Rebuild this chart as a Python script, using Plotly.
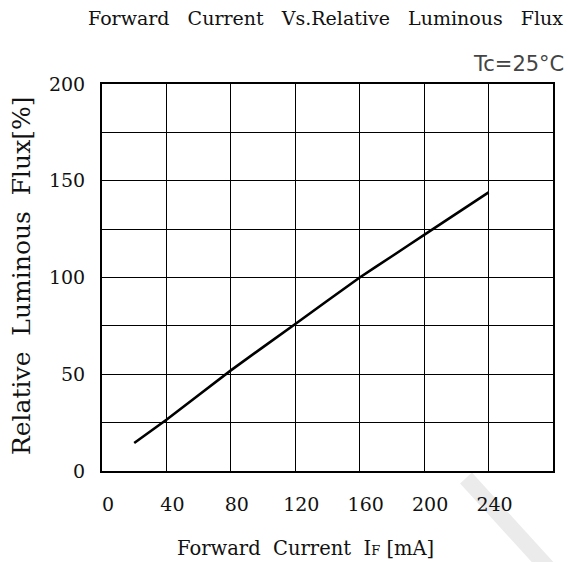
import plotly.graph_objects as go

# Data
current_ma = [20, 40, 80, 120, 160, 180, 200, 240]
rel_flux = [14.5, 26.5, 52, 76, 100, 111, 122, 144]

x_grid = [0, 40, 80, 120, 160, 200, 240, 280]
x_labels = ["0", "40", "80", "120", "160", "200", "240", ""]
y_grid = [0, 25, 50, 75, 100, 125, 150, 175, 200]
y_labels = ["0", "", "50", "", "100", "", "150", "", "200"]

W, H = 568, 562
L, R, T, B = 102, 15, 84, 91
pw, ph = W - L - R, H - T - B

def px_x(p):
    return (p - L) / pw

def px_y(p):
    return (H - B - p) / ph

serif = "DejaVu Serif"
NB = "\u00a0"

fig = go.Figure()
fig.add_trace(go.Scatter(x=current_ma, y=rel_flux, mode="lines",
                         line=dict(color="black", width=2.6, shape="spline", smoothing=0.3),
                         hoverinfo="skip", showlegend=False))

fig.update_layout(
    width=W, height=H,
    margin=dict(l=L, r=R, t=T, b=B),
    paper_bgcolor="white", plot_bgcolor="white",
    showlegend=False,
    font=dict(family=serif, color="black"),
)
fig.update_xaxes(range=[0, 280], tickvals=x_grid, ticktext=x_labels,
                 showgrid=True, gridcolor="black", gridwidth=1.3,
                 showline=True, linecolor="black", linewidth=2, mirror=True,
                 ticks="", zeroline=False, ticklabelshift=6, ticklabelstandoff=15,
                 tickfont=dict(family=serif, size=19, color="#111"), fixedrange=True)
fig.update_yaxes(range=[0, 200], tickvals=y_grid, ticktext=y_labels,
                 showgrid=True, gridcolor="black", gridwidth=1.3,
                 showline=True, linecolor="black", linewidth=2, mirror=True,
                 ticks="", zeroline=False, ticklabelstandoff=11,
                 tickfont=dict(family=serif, size=19, color="#111"), fixedrange=True)

# watermark band
fig.add_shape(type="line", xref="paper", yref="paper",
              x0=px_x(466), y0=px_y(478), x1=px_x(548), y1=px_y(568),
              line=dict(color="#ebebeb", width=16), layer="below")

G3 = NB * 3
anns = [
    dict(text=f"Forward{G3}Current{G3}Vs.Relative{G3}Luminous{G3}Flux",
         x=px_x(565), y=px_y(18), xanchor="right", yanchor="middle",
         font=dict(family=serif, size=19, color="#111")),
    dict(text="Tc=25°C", x=px_x(566), y=px_y(64), xanchor="right", yanchor="middle",
         font=dict(family="DejaVu Sans", size=21, color="#444")),
    dict(text=f"Forward{NB}{NB}Current{NB}{NB}I<span style='font-size:13px'>F</span>{NB}[mA]",
         x=px_x(305), y=px_y(548), xanchor="center", yanchor="middle",
         font=dict(family=serif, size=19.5, color="#111")),
    dict(text=f"Relative{NB}{NB}Luminous{NB}{NB}Flux[%]", x=px_x(21), y=px_y(276),
         xanchor="center", yanchor="middle", textangle=-90,
         font=dict(family=serif, size=25, color="#111")),
]
for a in anns:
    a.update(xref="paper", yref="paper", showarrow=False)
    fig.add_annotation(**a)

fig.write_html("out.html", config={"displayModeBar": False},
               post_script="document.body.style.margin='0';document.body.style.padding='0';")
